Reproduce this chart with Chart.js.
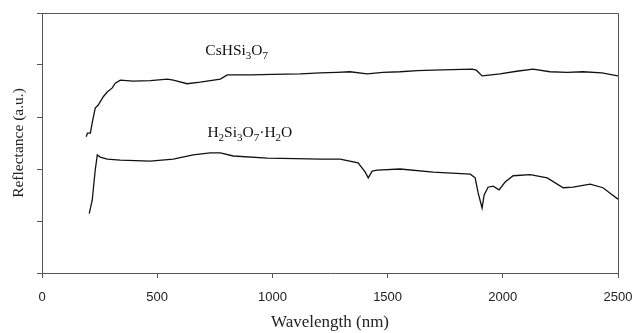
<!DOCTYPE html>
<html>
<head>
<meta charset="utf-8">
<script src="https://cdn.jsdelivr.net/npm/chart.js@4/dist/chart.umd.min.js"></script>
<style>
  html, body { margin: 0; padding: 0; background: #fff; }
  #wrap { width: 635px; height: 333px; }
</style>
</head>
<body>
<div id="wrap"><canvas id="spectra"></canvas></div>
<script>
// wavelength (nm) / reflectance (a.u.)
const csWave = [192, 197, 210, 218, 231, 244, 266, 283, 305, 318, 340, 396, 470, 544, 570, 630, 687, 774, 804, 904, 1000, 1121, 1207, 1280, 1337, 1411, 1480, 1554, 1630, 1698, 1780, 1867, 1885, 1910, 1950, 1988, 2060, 2131, 2205, 2280, 2348, 2430, 2500];
const csRefl = [2.62, 2.69, 2.69, 2.89, 3.17, 3.23, 3.39, 3.48, 3.56, 3.65, 3.71, 3.69, 3.70, 3.73, 3.71, 3.64, 3.67, 3.73, 3.81, 3.81, 3.82, 3.83, 3.85, 3.86, 3.87, 3.83, 3.86, 3.87, 3.89, 3.90, 3.91, 3.92, 3.90, 3.79, 3.81, 3.83, 3.88, 3.92, 3.87, 3.86, 3.87, 3.85, 3.79];

const hWave = [205, 218, 231, 240, 253, 283, 340, 470, 570, 656, 730, 774, 830, 978, 1100, 1207, 1294, 1372, 1403, 1416, 1433, 1455, 1554, 1698, 1859, 1880, 1893, 1910, 1919, 1936, 1958, 1984, 2010, 2045, 2119, 2193, 2262, 2305, 2379, 2435, 2470, 2500];
const hRefl = [1.14, 1.40, 1.98, 2.27, 2.23, 2.19, 2.17, 2.15, 2.19, 2.27, 2.31, 2.31, 2.25, 2.21, 2.20, 2.19, 2.19, 2.12, 1.94, 1.83, 1.96, 1.98, 2.00, 1.94, 1.90, 1.83, 1.54, 1.25, 1.50, 1.65, 1.67, 1.60, 1.75, 1.87, 1.89, 1.83, 1.64, 1.65, 1.71, 1.64, 1.52, 1.42];

const xTicks = [0, 500, 1000, 1500, 2000, 2500];

// curve labels: [x nm, y value, text runs] — runs are [text, subscript?]
const curveLabels = [
  [709, 4.19, [["CsHSi", false], ["3", true], ["O", false], ["7", true]]],
  [718, 2.62, [["H", false], ["2", true], ["Si", false], ["3", true], ["O", false], ["7", true], ["\u00b7H", false], ["2", true], ["O", false]]]
];

const toPts = (xs, ys) => xs.map((x, i) => ({ x: x, y: ys[i] }));

const frameAndLabels = {
  id: "frameAndLabels",
  afterDraw(chart) {
    const { ctx, chartArea: a, scales } = chart;
    ctx.save();
    ctx.strokeStyle = "#555";
    ctx.lineWidth = 1;
    ctx.beginPath();
    ctx.moveTo(a.left, a.top + 0.5);
    ctx.lineTo(a.right + 0.5, a.top + 0.5);
    ctx.lineTo(a.right + 0.5, a.bottom);
    ctx.stroke();

    ctx.fillStyle = "#111";
    ctx.textBaseline = "alphabetic";
    curveLabels.forEach(([wx, wy, runs]) => {
      let px = scales.x.getPixelForValue(wx);
      const py = scales.y.getPixelForValue(wy);
      runs.forEach(([t, sub]) => {
        ctx.font = sub ? "11px 'Liberation Serif'" : "15.5px 'Liberation Serif'";
        ctx.fillText(t, px, sub ? py + 4 : py);
        px += ctx.measureText(t).width;
      });
    });
    ctx.restore();
  }
};

new Chart(document.getElementById("spectra"), {
  type: "line",
  data: {
    datasets: [
      {
        label: "CsHSi3O7",
        data: toPts(csWave, csRefl),
        borderColor: "#111",
        borderWidth: 1.3,
        pointRadius: 0,
        tension: 0
      },
      {
        label: "H2Si3O7·H2O",
        data: toPts(hWave, hRefl),
        borderColor: "#111",
        borderWidth: 1.3,
        pointRadius: 0,
        tension: 0
      }
    ]
  },
  options: {
    responsive: true,
    maintainAspectRatio: false,
    animation: false,
    layout: { padding: { left: 0, top: 13, right: 17, bottom: 0 } },
    plugins: {
      legend: { display: false },
      tooltip: { enabled: false }
    },
    scales: {
      x: {
        type: "linear",
        min: 0,
        max: 2500,
        afterBuildTicks: (s) => { s.ticks = xTicks.map(v => ({ value: v })); },
        afterFit: (s) => { s.height = 60; s.paddingLeft = 0; s.paddingRight = 0; },
        grid: { drawOnChartArea: false, drawTicks: true, tickLength: 5, color: "#555" },
        border: { display: true, color: "#555", width: 1 },
        ticks: {
          padding: 12,
          color: "#222",
          callback: (v) => String(v),
          font: { family: "'Liberation Sans'", size: 13 }
        },
        title: {
          display: true,
          text: "Wavelength (nm)",
          color: "#222",
          padding: { top: 0, bottom: 0 },
          font: { family: "'Liberation Serif'", size: 17 }
        }
      },
      y: {
        min: 0,
        max: 5,
        ticks: { display: false, stepSize: 1 },
        afterFit: (s) => { s.width = 42; s.paddingTop = 0; s.paddingBottom = 0; },
        grid: { drawOnChartArea: false, drawTicks: true, tickLength: 5, color: "#555" },
        border: { display: true, color: "#555", width: 1 },
        title: {
          display: true,
          text: "Reflectance (a.u.)",
          color: "#222",
          padding: { top: 10, bottom: 0 },
          font: { family: "'Liberation Serif'", size: 15.5 }
        }
      }
    }
  },
  plugins: [frameAndLabels]
});
</script>
</body>
</html>
